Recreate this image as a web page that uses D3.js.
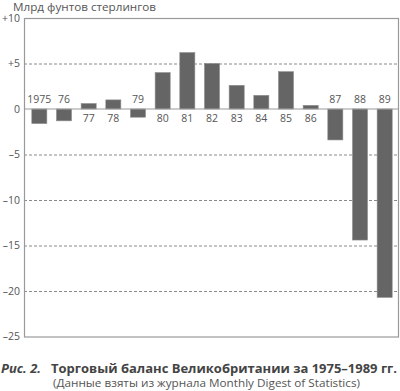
<!DOCTYPE html>
<html>
<head>
<meta charset="utf-8">
<title>Торговый баланс</title>
<script src="https://d3js.org/d3.v7.min.js"></script>
<style>
  body { margin: 0; background: #fff; }
  text { font-family: "Open Sans", "Noto Sans", sans-serif; }
</style>
</head>
<body>
<script>
var years = ["1975","76","77","78","79","80","81","82","83","84","85","86","87","88","89"];
var balance = [-1.6, -1.3, 0.6, 1.0, -0.9, 4.0, 6.2, 5.0, 2.6, 1.5, 4.1, 0.4, -3.4, -14.4, -20.7];
var yTicks = [10, 5, 0, -5, -10, -15, -20, -25];
var gridTicks = [5, -5, -10, -15, -20];

var svg = d3.select("body").append("svg")
  .attr("width", 400)
  .attr("height", 391);

var x = d3.scaleBand().domain(years).range([27, 397]).paddingInner(0.39).paddingOuter(0.195);
var y = d3.scaleLinear().domain([-25, 10]).range([336.5, 18]);

var left = 24, right = 399;

// dashed grid
svg.selectAll("line.grid").data(gridTicks).enter().append("line")
  .attr("class", "grid")
  .attr("x1", left).attr("x2", right)
  .attr("y1", function(d) { return y(d) + 0.5; })
  .attr("y2", function(d) { return y(d) + 0.5; })
  .attr("stroke", "#8a8a8a").attr("stroke-width", 1)
  .attr("stroke-dasharray", "3,2");

// frame
svg.append("rect")
  .attr("x", left + 0.5).attr("y", y(10) + 0.5)
  .attr("width", right - left - 1).attr("height", y(-25) - y(10))
  .attr("fill", "none").attr("stroke", "#999").attr("stroke-width", 1.2);

// bars
svg.selectAll("rect.bar").data(balance).enter().append("rect")
  .attr("class", "bar")
  .attr("x", function(d, i) { return x(years[i]); })
  .attr("width", x.bandwidth())
  .attr("y", function(d) { return y(Math.max(0, d)); })
  .attr("height", function(d) { return Math.abs(y(d) - y(0)); })
  .attr("fill", "#656565")
  .attr("stroke", "#8c8c8c").attr("stroke-width", 0.6);

// zero line
svg.append("line")
  .attr("x1", left).attr("x2", right)
  .attr("y1", y(0)).attr("y2", y(0))
  .attr("stroke", "#999").attr("stroke-width", 1.2);

// year labels
svg.selectAll("text.yr").data(balance).enter().append("text")
  .attr("class", "yr")
  .attr("x", function(d, i) { return x(years[i]) + x.bandwidth() / 2; })
  .attr("y", function(d) { return d < 0 ? y(0) - 6 : y(0) + 13; })
  .attr("text-anchor", "middle")
  .attr("font-size", 10.5)
  .attr("fill", "#555")
  .text(function(d, i) { return years[i]; });

// y tick labels
svg.selectAll("text.tick").data(yTicks).enter().append("text")
  .attr("class", "tick")
  .attr("x", 20)
  .attr("y", function(d) { return y(d) + 3.5; })
  .attr("text-anchor", "end")
  .attr("font-size", 10.5)
  .attr("fill", "#555")
  .text(function(d) { return d > 0 ? "+" + d : d < 0 ? "–" + (-d) : "0"; });

// unit label
svg.append("text")
  .attr("x", 13).attr("y", 11)
  .attr("font-size", 10.5)
  .attr("fill", "#555")
  .attr("textLength", 143).attr("lengthAdjust", "spacingAndGlyphs")
  .text("Млрд фунтов стерлингов");

// caption
svg.append("text")
  .attr("x", 1).attr("y", 373)
  .attr("font-size", 12).attr("font-weight", "bold").attr("font-style", "italic")
  .attr("fill", "#444")
  .attr("textLength", 40).attr("lengthAdjust", "spacingAndGlyphs")
  .text("Рис. 2.");
svg.append("text")
  .attr("x", 51).attr("y", 373)
  .attr("font-size", 12).attr("font-weight", "bold")
  .attr("fill", "#444")
  .attr("textLength", 346).attr("lengthAdjust", "spacingAndGlyphs")
  .text("Торговый баланс Великобритании за 1975–1989 гг.");
svg.append("text")
  .attr("x", 53).attr("y", 387)
  .attr("font-size", 10.5)
  .attr("fill", "#555")
  .attr("textLength", 307).attr("lengthAdjust", "spacingAndGlyphs")
  .text("(Данные взяты из журнала Monthly Digest of Statistics)");
</script>
</body>
</html>
